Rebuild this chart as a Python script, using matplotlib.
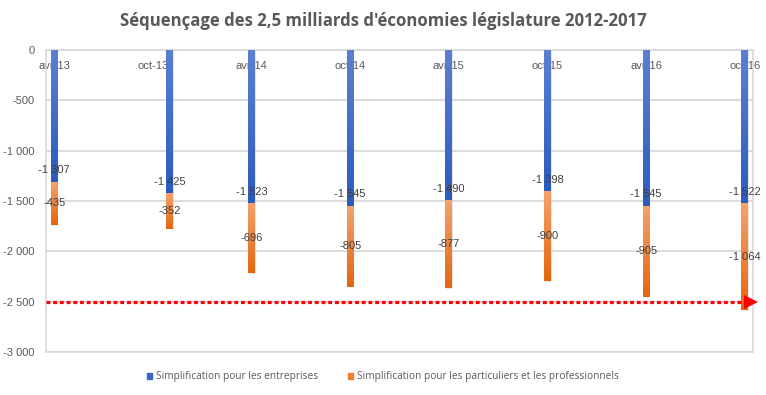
import matplotlib
matplotlib.use("Agg")
import matplotlib.pyplot as plt
import matplotlib.transforms as mtransforms
from matplotlib.colors import LinearSegmentedColormap
from matplotlib.patches import Patch
from matplotlib.ticker import FuncFormatter, MultipleLocator
import numpy as np

# data (millions d'euros)
dates = ["2013-04", "2013-11", "2014-04", "2014-10", "2015-04", "2015-10", "2016-04", "2016-10"]
entreprises = [-1307, -1425, -1523, -1545, -1490, -1398, -1545, -1522]
particuliers = [-435, -352, -696, -805, -877, -900, -905, -1064]
tick_labels = ["avr-13", "oct-13", "avr-14", "oct-14", "avr-15", "oct-15", "avr-16", "oct-16"]
objectif = -2500

plt.rcParams['font.family'] = ['Liberation Sans', 'DejaVu Sans']
grey = "#595959"

def month_index(s):
    y, m = s.split("-")
    return (int(y) - 2013) * 12 + int(m) - 4

x = np.array([month_index(d) for d in dates])
tick_pos = np.arange(0, 6 * len(tick_labels), 6)

fig = plt.figure(figsize=(7.66, 3.95), dpi=100)
ax = fig.add_axes([46 / 766, 1 - 352 / 395, 707 / 766, 302 / 395])

width = 0.42
blue_cmap = LinearSegmentedColormap.from_list("b", ["#5b80d2", "#2c5bbf"])
orange_cmap = LinearSegmentedColormap.from_list("o", ["#f4a26c", "#e4670f"])

def gradient_bars(xs, heights, bottoms, cmap, color):
    bars = ax.bar(xs, heights, width, bottom=bottoms, color=color, zorder=3)
    grad = np.linspace(0, 1, 64).reshape(-1, 1)
    for b in bars:
        x0, y0 = b.get_x(), b.get_y()
        x1, y1 = x0 + b.get_width(), y0 + b.get_height()
        # soft shadow under the bar
        ax.add_patch(plt.Rectangle((x0 + 0.05, min(y0, y1) - 6), b.get_width(), abs(y1 - y0),
                                   color="#d0d0d0", alpha=0.5, zorder=2, lw=0))
        im = ax.imshow(grad, extent=[x0, x1, y1, y0], aspect="auto", cmap=cmap,
                       origin="upper", zorder=4)
        im.set_clip_path(b)
    return bars

gradient_bars(x, entreprises, 0, blue_cmap, "#3a66c4")
gradient_bars(x, particuliers, entreprises, orange_cmap, "#ef7d2f")

# data labels
for xi, e, p in zip(x, entreprises, particuliers):
    ax.text(xi, e + 110, f"{e:,}".replace(",", " "), ha="center", va="center",
            fontsize=8, color="#404040", zorder=6)
    ax.text(xi, e + p / 2, f"{p:,}".replace(",", " "), ha="center", va="center",
            fontsize=8, color="#404040", zorder=6)

# objective line with arrow
trans = mtransforms.blended_transform_factory(ax.transAxes, ax.transData)
ax.plot([0, 0.99], [objectif, objectif], transform=trans, color="#ff0000", lw=2.3,
        linestyle=(0, (1.2, 0.9)), dash_capstyle="butt", zorder=7, clip_on=False)
ax.plot([0.997], [objectif], transform=trans, marker=">", markersize=10, color="#ff0000",
        zorder=7, clip_on=False, markeredgewidth=0)

ax.set_xlim(-0.5, 42.5)
ax.set_ylim(-3000, 0)
ax.yaxis.set_major_locator(MultipleLocator(500))
ax.yaxis.set_major_formatter(FuncFormatter(lambda v, _: f"{int(v):,}".replace(",", " ")))
ax.grid(axis="y", color="#d9d9d9", lw=1.3, zorder=0)
ax.set_axisbelow(True)

ax.set_xticks(tick_pos)
ax.set_xticklabels(tick_labels)
ax.tick_params(axis="x", top=False, bottom=False, labeltop=True, labelbottom=False,
               length=0, pad=-15, labelsize=8, labelcolor=grey)
ax.tick_params(axis="y", length=0, pad=8, labelsize=8, labelcolor=grey)
for s in ax.spines.values():
    s.set_color("#d9d9d9")
    s.set_linewidth(1.2)

fig.suptitle("Séquençage des 2,5 milliards d'économies législature 2012-2017",
             x=0.5, y=1 - 21 / 395, va="center", fontsize=12.1, fontweight="bold",
             color=grey, family=["Open Sans", "DejaVu Sans"])

handles = [Patch(color="#3a66c4", label="Simplification pour les entreprises"),
           Patch(color="#ef7d2f", label="Simplification pour les particuliers et les professionnels")]
fig.legend(handles=handles, loc="center", bbox_to_anchor=(0.5, 1 - 377 / 395), ncol=2,
           frameon=False, prop={"family": ["Open Sans", "DejaVu Sans"], "size": 7.3},
           handlelength=0.5, handleheight=0.5, handletextpad=0.4,
           columnspacing=3.0, labelcolor=grey)

fig.savefig("out.png", dpi=100)
